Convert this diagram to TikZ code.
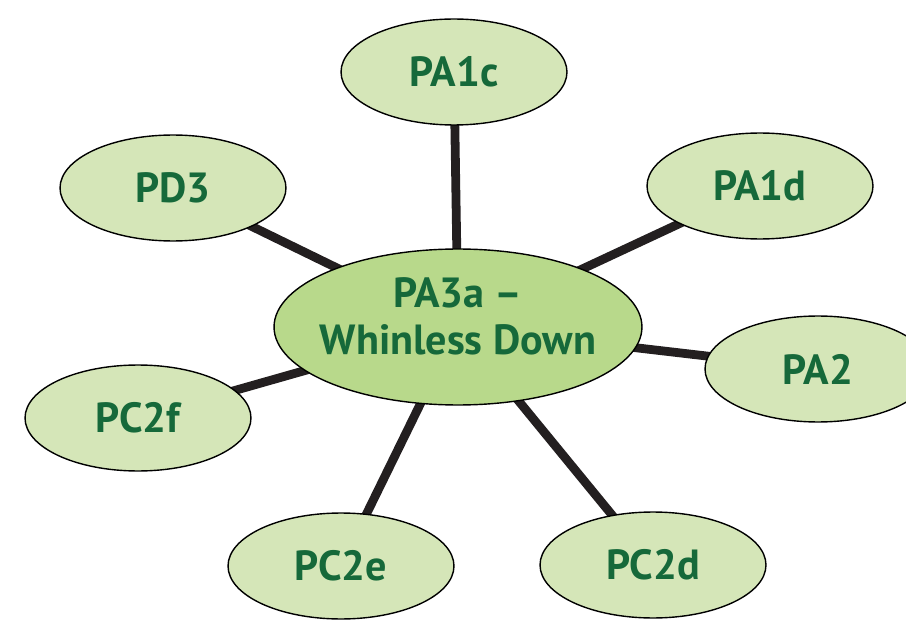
\documentclass[tikz,border=0pt]{standalone}
\usepackage{fontspec}
\setmainfont{PT Sans}
\usetikzlibrary{shapes.geometric,backgrounds}

\definecolor{leaf}{HTML}{D5E6B8}
\definecolor{hubfill}{HTML}{B8D98B}
\definecolor{label}{HTML}{16693A}
\definecolor{spoke}{HTML}{231F20}

\tikzset{
    leafnode/.style={ellipse,draw=black,line width=0.8pt,fill=leaf,
        minimum width=4.52cm,minimum height=2.12cm,inner sep=0pt,
        text=label,font=\fontsize{24}{27}\selectfont\bfseries},
    hubnode/.style={leafnode,fill=hubfill,minimum width=7.36cm,
        minimum height=3.12cm,inner xsep=-0.4cm,inner ysep=-0.2cm,align=center},
    spokeline/.style={draw=spoke,line width=5pt}
}

\begin{document}
\begin{tikzpicture}[x=0.02cm,y=-0.02cm]
    \useasboundingbox (0,0) rectangle (906,628);
    \clip (0,0) rectangle (906,628);
    % centre and the seven around it
    \node[hubnode] (hub) at (458,327) {PA3a --\\Whinless Down\rule[-0.44cm]{0pt}{0pt}};
    \node[leafnode] (pa1c) at (454,72) {PA1c};
    \node[leafnode] (pd3) at (173,188) {PD3};
    \node[leafnode] (pa1d) at (760,186) {PA1d};
    \node[leafnode] (pa2) at (818,369) {PA2};
    \node[leafnode] (pc2f) at (138,418) {PC2f};
    \node[leafnode] (pc2e) at (341,566) {PC2e};
    \node[leafnode] (pc2d) at (653,565) {PC2d};
    % spokes go behind the ellipses
    \begin{pgfonlayer}{background}
        \foreach \leaf in {pa1c,pd3,pa1d,pa2,pc2f,pc2e,pc2d}
            \draw[spokeline] (hub.center) -- (\leaf.center);
    \end{pgfonlayer}
\end{tikzpicture}
\end{document}
